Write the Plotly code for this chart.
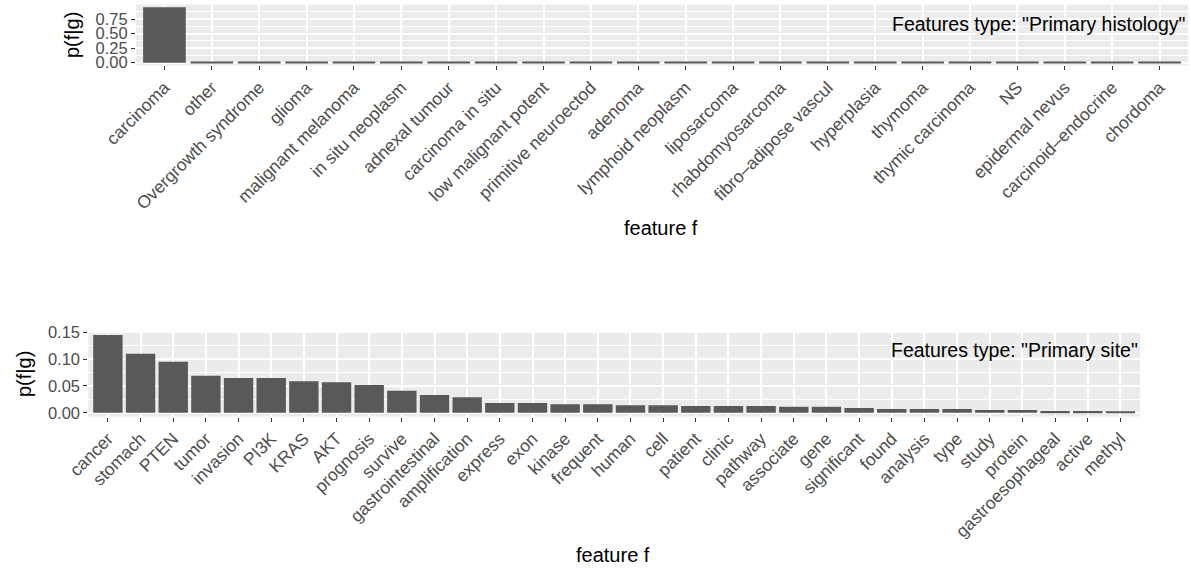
import plotly.graph_objects as go

# ---- data ----
hist_features = ["carcinoma", "other", "Overgrowth syndrome", "glioma", "malignant melanoma",
                 "in situ neoplasm", "adnexal tumour", "carcinoma in situ", "low malignant potent",
                 "primitive neuroectod", "adenoma", "lymphoid neoplasm", "liposarcoma",
                 "rhabdomyosarcoma", "fibro\u2013adipose vascul", "hyperplasia", "thymoma",
                 "thymic carcinoma", "NS", "epidermal nevus", "carcinoid\u2013endocrine", "chordoma"]
hist_probs = [0.95, 0.02, 0.0015, 0.0015, 0.0015, 0.0015, 0.0015, 0.0015, 0.0015, 0.0015, 0.0015,
              0.0015, 0.0015, 0.0015, 0.0015, 0.0015, 0.0015, 0.0015, 0.0015, 0.0015, 0.0015, 0.0015]

site_features = ["cancer", "stomach", "PTEN", "tumor", "invasion", "PI3K", "KRAS", "AKT",
                 "prognosis", "survive", "gastrointestinal", "amplification", "express", "exon",
                 "kinase", "frequent", "human", "cell", "patient", "clinic", "pathway", "associate",
                 "gene", "significant", "found", "analysis", "type", "study", "protein",
                 "gastroesophageal", "active", "methyl"]
site_probs = [0.145, 0.110, 0.095, 0.069, 0.065, 0.065, 0.059, 0.057, 0.052, 0.041, 0.033, 0.029,
              0.018, 0.018, 0.016, 0.016, 0.014, 0.014, 0.0125, 0.0125, 0.0125, 0.011, 0.011,
              0.009, 0.007, 0.007, 0.007, 0.005, 0.005, 0.003, 0.003, 0.0015]

hist_yticks = [0.0, 0.25, 0.5, 0.75]
hist_yticktext = ["0.00", "0.25", "0.50", "0.75"]
hist_yminor = [0.125, 0.375, 0.625, 0.875]
site_yticks = [0.0, 0.05, 0.10, 0.15]
site_yticktext = ["0.00", "0.05", "0.10", "0.15"]
site_yminor = [0.025, 0.075, 0.125]

W, H = 1191, 568
FONT = "Liberation Sans, Arial, Helvetica, sans-serif"
BAR = "#595959"
XTICKFONT = dict(family=FONT, size=17.5, color="#4D4D4D")
YTICKFONT = dict(family=FONT, size=16.5, color="#4D4D4D")
TITLEFONT = dict(family=FONT, size=20, color="black")

fig = go.Figure()
fig.add_trace(go.Bar(x=hist_features, y=hist_probs, marker=dict(color=BAR, line=dict(width=0)),
                     xaxis="x", yaxis="y", showlegend=False, hoverinfo="skip"))
fig.add_trace(go.Bar(x=site_features, y=site_probs, marker=dict(color=BAR, line=dict(width=0)),
                     xaxis="x2", yaxis="y2", showlegend=False, hoverinfo="skip"))

def px_x(v):
    return v / W

def px_y(v):
    return (H - v) / H

hmax = max(hist_probs)
smax = max(site_probs)

common_x = dict(type="category", tickangle=-45, ticks="outside", ticklen=4, tickwidth=1.1,
                tickcolor="#333333", showgrid=True, gridcolor="white", gridwidth=1.6,
                zeroline=False, showline=False, tickfont=XTICKFONT, automargin=False)
common_y = dict(ticks="outside", ticklen=4, tickwidth=1.1, tickcolor="#333333", showgrid=True,
                gridcolor="white", gridwidth=1.6, zeroline=False, showline=False,
                tickfont=YTICKFONT, automargin=False)

fig.update_layout(
    width=W, height=H,
    margin=dict(l=0, r=0, t=0, b=0),
    paper_bgcolor="white", plot_bgcolor="#EBEBEB",
    bargap=0.1,
    xaxis=dict(domain=[px_x(136), px_x(1188)], anchor="y",
               range=[-0.6, len(hist_features) - 0.4], **common_x),
    yaxis=dict(domain=[px_y(65.4), px_y(4.6)], anchor="x",
               range=[-0.05 * hmax, 1.05 * hmax], tickvals=hist_yticks, ticktext=hist_yticktext,
               minor=dict(tickvals=hist_yminor, showgrid=True, gridcolor="white",
                          gridwidth=0.8, ticks=""),
               **common_y),
    xaxis2=dict(domain=[px_x(88.3), px_x(1140)], anchor="y2",
                range=[-0.6, len(site_features) - 0.4], **common_x),
    yaxis2=dict(domain=[px_y(416.6), px_y(331.2)], anchor="x2",
                range=[-0.05 * smax, 1.05 * smax], tickvals=site_yticks, ticktext=site_yticktext,
                minor=dict(tickvals=site_yminor, showgrid=True, gridcolor="white",
                           gridwidth=0.8, ticks=""),
                **common_y),
)

annotations = [
    dict(text='Features type: "Primary histology"', xref="x domain", yref="paper", x=1,
         y=px_y(23.5), xanchor="right", yanchor="middle", showarrow=False,
         font=dict(family=FONT, size=19.5, color="black")),
    dict(text='Features type: "Primary site"', xref="x2 domain", yref="paper", x=1,
         y=px_y(350), xanchor="right", yanchor="middle", showarrow=False,
         font=dict(family=FONT, size=19.5, color="black")),
    dict(text="feature f", xref="paper", yref="paper", x=px_x(661), y=px_y(228),
         xanchor="center", yanchor="middle", showarrow=False, font=TITLEFONT),
    dict(text="feature f", xref="paper", yref="paper", x=px_x(613), y=px_y(555),
         xanchor="center", yanchor="middle", showarrow=False, font=TITLEFONT),
    dict(text="p(f|g)", xref="paper", yref="paper", x=px_x(72), y=px_y(35), textangle=-90,
         xanchor="center", yanchor="middle", showarrow=False, font=TITLEFONT),
    dict(text="p(f|g)", xref="paper", yref="paper", x=px_x(24), y=px_y(374), textangle=-90,
         xanchor="center", yanchor="middle", showarrow=False, font=TITLEFONT),
]
fig.update_layout(annotations=annotations)

fig.write_html(
    "out.html",
    config={"displayModeBar": False},
    post_script="document.body.style.margin='0';document.body.style.overflow='hidden';",
)
